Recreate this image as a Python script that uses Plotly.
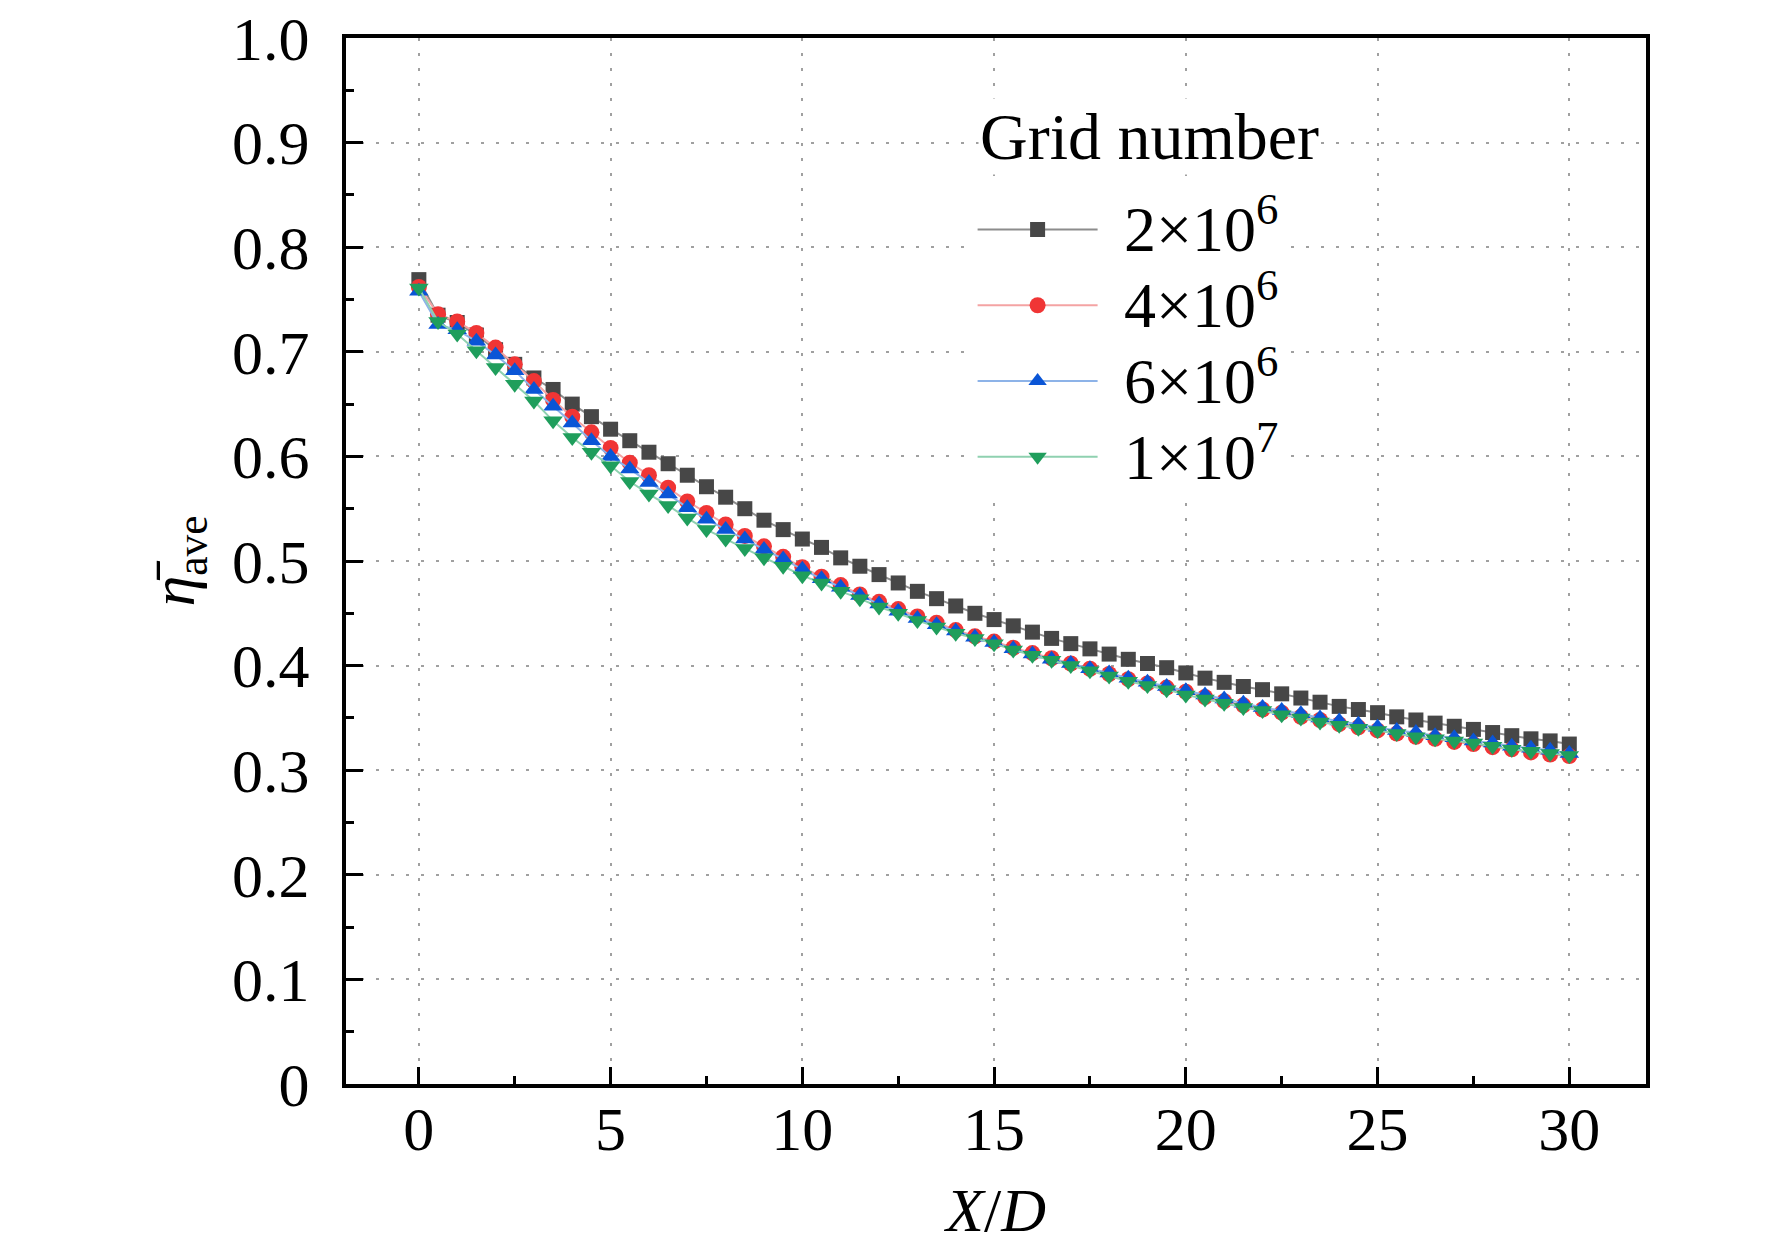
import plotly.graph_objects as go

# X/D stations (every 0.5)
x_d = [i * 0.5 for i in range(61)]

# 2x10^6 grid
eta_2e6 = [0.769, 0.735, 0.728, 0.716, 0.702, 0.688, 0.675, 0.664, 0.650, 0.638,
           0.626, 0.615, 0.604, 0.593, 0.582, 0.571, 0.561, 0.550, 0.539, 0.530,
           0.521, 0.513, 0.503, 0.495, 0.487, 0.479, 0.471, 0.464, 0.457, 0.450,
           0.444, 0.438, 0.432, 0.426, 0.421, 0.416, 0.411, 0.406, 0.402, 0.398,
           0.393, 0.388, 0.384, 0.380, 0.377, 0.373, 0.369, 0.365, 0.361, 0.358,
           0.355, 0.351, 0.348, 0.345, 0.342, 0.339, 0.336, 0.333, 0.330, 0.328,
           0.325]
# 4x10^6 grid
eta_4e6 = [0.762, 0.736, 0.729, 0.718, 0.704, 0.688, 0.672, 0.654, 0.638, 0.623,
           0.608, 0.594, 0.582, 0.570, 0.557, 0.546, 0.535, 0.524, 0.514, 0.504,
           0.494, 0.485, 0.477, 0.468, 0.461, 0.454, 0.447, 0.441, 0.434, 0.428,
           0.423, 0.417, 0.412, 0.407, 0.402, 0.397, 0.392, 0.387, 0.383, 0.379,
           0.375, 0.370, 0.366, 0.362, 0.358, 0.355, 0.351, 0.348, 0.344, 0.341,
           0.338, 0.335, 0.332, 0.330, 0.327, 0.325, 0.322, 0.320, 0.317, 0.315,
           0.3135]
# 6x10^6 grid
eta_6e6 = [0.758, 0.726, 0.721, 0.710, 0.697, 0.682, 0.664, 0.648, 0.632, 0.615,
           0.600, 0.588, 0.575, 0.564, 0.551, 0.540, 0.530, 0.521, 0.511, 0.502,
           0.492, 0.483, 0.475, 0.467, 0.459, 0.452, 0.445, 0.439, 0.433, 0.427,
           0.422, 0.416, 0.411, 0.406, 0.402, 0.397, 0.393, 0.388, 0.384, 0.380,
           0.376, 0.372, 0.368, 0.364, 0.360, 0.357, 0.354, 0.350, 0.347, 0.344,
           0.341, 0.338, 0.336, 0.333, 0.331, 0.328, 0.326, 0.323, 0.321, 0.319,
           0.316]
# 1x10^7 grid
eta_1e7 = [0.761, 0.729, 0.717, 0.701, 0.685, 0.669, 0.653, 0.634, 0.618, 0.604,
           0.591, 0.576, 0.564, 0.553, 0.541, 0.530, 0.521, 0.512, 0.503, 0.495,
           0.486, 0.479, 0.471, 0.464, 0.456, 0.450, 0.443, 0.437, 0.431, 0.426,
           0.421, 0.415, 0.410, 0.405, 0.400, 0.395, 0.390, 0.385, 0.381, 0.377,
           0.372, 0.368, 0.364, 0.360, 0.357, 0.353, 0.350, 0.346, 0.343, 0.340,
           0.338, 0.335, 0.332, 0.330, 0.328, 0.326, 0.323, 0.320, 0.318, 0.316,
           0.314]

series_names = ["2×10<sup>6</sup>", "4×10<sup>6</sup>", "6×10<sup>6</sup>", "1×10<sup>7</sup>"]
legend_title = "Grid number"
x_ticks = [0, 5, 10, 15, 20, 25, 30]
y_ticks = [0, 0.1, 0.2, 0.3, 0.4, 0.5, 0.6, 0.7, 0.8, 0.9, 1.0]
y_tick_text = ["0", "0.1", "0.2", "0.3", "0.4", "0.5", "0.6", "0.7", "0.8", "0.9", "1.0"]

# styles: (marker colour, line colour, symbol, size)
styles = [
    ("#474747", "#8c8c8c", "square", 15),
    ("#f03535", "#f4a3a3", "circle", 16),
    ("#0a55d6", "#8db3e8", "triangle-up", 17),
    ("#1f9e5c", "#8fd1b0", "triangle-down", 17),
]

FONT = "Liberation Serif, Times New Roman, serif"

fig = go.Figure()
for name, ys, (mc, lc, sym, sz) in zip(series_names, [eta_2e6, eta_4e6, eta_6e6, eta_1e7], styles):
    fig.add_trace(go.Scatter(
        x=x_d, y=ys, mode="lines+markers",
        # legend row height follows legend font size, text itself drawn larger
        name='<span style="font-size:64px">\u00a0\u200a' + name + "</span>",
        line=dict(color=lc, width=2),
        marker=dict(symbol=sym, size=sz, color=mc, line=dict(width=0)),
    ))

axis_common = dict(
    showline=True, linecolor="black", linewidth=4, mirror=True,
    ticks="inside", ticklen=17, tickwidth=3, tickcolor="black",
    showgrid=True, gridcolor="#a0a0a0", gridwidth=2, griddash="3px,12px",
    zeroline=False, ticklabeloverflow="allow",
    tickfont=dict(family=FONT, size=62, color="black"),
)

fig.update_xaxes(
    **axis_common,
    range=[-1.9, 32], tickvals=x_ticks, ticklabelstandoff=-12,
    minor=dict(ticks="inside", ticklen=8, tickwidth=3, tickcolor="black", dtick=2.5, tick0=0, showgrid=False),
    title=dict(text="<i>X</i>/<i>D</i>", font=dict(family=FONT, size=62, color="black"), standoff=26),
)
fig.update_yaxes(
    **axis_common,
    range=[0, 1.0], tickvals=y_ticks, ticktext=y_tick_text, ticklabelstandoff=20,
    minor=dict(ticks="inside", ticklen=8, tickwidth=3, tickcolor="black", dtick=0.05, tick0=0, showgrid=False),
    title=dict(text="<i>η̄</i><sub>ave</sub>", font=dict(family=FONT, size=62, color="black"), standoff=18),
)

fig.add_annotation(
    text=legend_title, xref="paper", yref="paper", x=0.486, y=0.906,
    xanchor="left", yanchor="middle", showarrow=False,
    font=dict(family=FONT, size=66, color="black"), bgcolor="white",
)

fig.update_layout(
    width=1772, height=1252,
    margin=dict(l=338, r=134, t=30, b=176, autoexpand=False),
    paper_bgcolor="white", plot_bgcolor="white",
    font=dict(family=FONT, color="black"),
    legend=dict(
        font=dict(family=FONT, size=56, color="black"),
        x=0.482, y=0.858, xanchor="left", yanchor="top",
        bgcolor="white", borderwidth=0, itemwidth=120,
    ),
)

fig.write_html("out.html")
